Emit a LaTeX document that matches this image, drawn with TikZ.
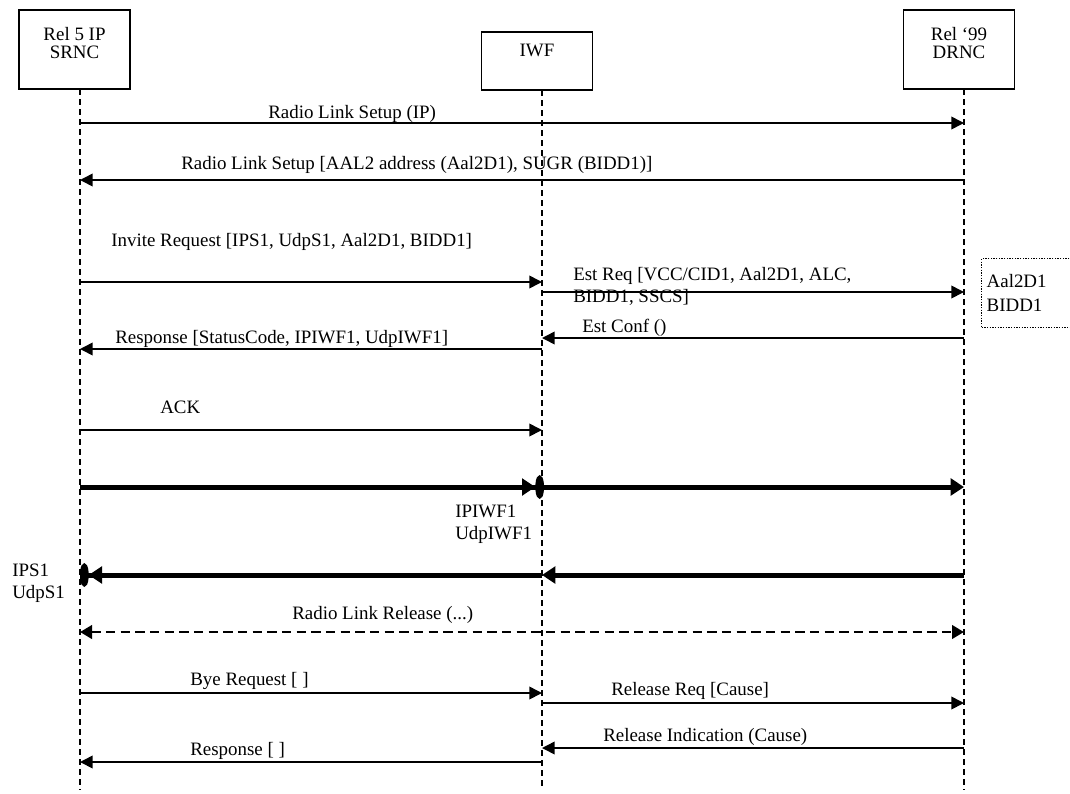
\documentclass[tikz,border=0pt]{standalone}
\usepackage{fontspec}
\setmainfont{Liberation Serif}
\usetikzlibrary{arrows.meta,positioning}
\newcommand{\msgfont}{\fontsize{14.2}{18}\selectfont}
\tikzset{
  ent/.style={draw,line width=1pt,minimum width=83.25pt,minimum height=59.25pt,
              inner sep=0pt},
  entname/.style={align=center,inner sep=0pt,anchor=north,
                  font=\fontsize{14.2}{13}\selectfont},
  life/.style={line width=1.5pt,dash pattern=on 4.5pt off 3pt},
  msg/.style={-{Triangle[length=9.5pt,width=9.5pt]},line width=1.2pt},
  fat/.style={-{Triangle[length=10pt,width=12.5pt]},line width=3.75pt},
  fatend/.style={line width=3.75pt,
                 -{Triangle[length=10pt,width=12.5pt]Ellipse[length=6.5pt,width=17pt]}},
  rel/.style={{Triangle[length=9pt,width=10pt]}-{Triangle[length=9pt,width=10pt]},
              line width=2.2pt,dash pattern=on 7pt off 4pt},
  lbl/.style={anchor=base west,inner sep=0pt,font=\msgfont},
  lbl2/.style={anchor=north west,inner sep=0pt,align=left,
               font=\fontsize{14.2}{16.5}\selectfont},
}

\begin{document}
\begin{tikzpicture}[x=0.75pt,y=-0.75pt,
    note/.style={draw,line width=1pt,dash pattern=on 1pt off 1pt,anchor=north west,
                 minimum width=90pt,minimum height=51.75pt,inner xsep=3.75pt,
                 text width=82.5pt,align=left,font=\fontsize{14.2}{18}\selectfont}
  ]
    \useasboundingbox (0,0) rectangle (1070,793);
    % entities
    \node[ent] (srnc) at (74.5,49.5) {};
    \node[ent,minimum height=43.5pt] (iwf) at (537,61) {};
    \node[ent] (drnc) at (959,49.5) {};
    \node[entname,below=13.5pt of srnc.north] (srncname) {Rel 5 IP\\SRNC};
    \node[entname,below=9pt of iwf.north] (iwfname) {IWF};
    \node[entname,below=13.5pt of drnc.north] (drncname) {Rel ‘99\\DRNC};
    % lifelines
    \coordinate (sTop) at (80,89);  \coordinate (sBot) at (80,790);
    \coordinate (iTop) at (542,90); \coordinate (iBot) at (542,790);
    \coordinate (dTop) at (964,89); \coordinate (dBot) at (964,790);
    \draw[life] (sTop) -- (sBot);
    \draw[life] (iTop) -- (iBot);
    \draw[life] (dTop) -- (dBot);

    % radio link setup
    \coordinate (m1a) at (80,123);  \coordinate (m1b) at (964,123);
    \draw[msg] (m1a) -- (m1b);
    \node[lbl] (t1) at (268,118) {Radio Link Setup (IP)};
    \coordinate (m2a) at (964,180); \coordinate (m2b) at (80,180);
    \draw[msg] (m2a) -- (m2b);
    \node[lbl] (t2) at (181,169) {Radio Link Setup [AAL2 address (Aal2D1), SUGR (BIDD1)]};

    % invite / establish
    \coordinate (m3a) at (80,282);  \coordinate (m3b) at (542,282);
    \draw[msg] (m3a) -- (m3b);
    \node[lbl] (t3) at (111,246) {Invite Request [IPS1, UdpS1, Aal2D1, BIDD1]};
    \coordinate (m4a) at (542,292); \coordinate (m4b) at (964,292);
    \draw[msg] (m4a) -- (m4b);
    \node[lbl2] (t4) at (573,267) {Est Req [VCC/CID1, Aal2D1, ALC,\\BIDD1, SSCS]};
    \node[note] (aal) at (981,258) {Aal2D1\\BIDD1};
    \coordinate (m5a) at (964,338); \coordinate (m5b) at (542,338);
    \draw[msg] (m5a) -- (m5b);
    \node[lbl] (t5) at (582,332) {Est Conf ()};
    \coordinate (m6a) at (542,349); \coordinate (m6b) at (80,349);
    \draw[msg] (m6a) -- (m6b);
    \node[lbl] (t6) at (115,343) {Response [StatusCode, IPIWF1, UdpIWF1]};
    \coordinate (m7a) at (80,430);  \coordinate (m7b) at (542,430);
    \draw[msg] (m7a) -- (m7b);
    \node[lbl] (t7) at (160,413) {ACK};

    % user plane
    \coordinate (f1a) at (80,487);  \coordinate (f1b) at (544,487);
    \coordinate (f2a) at (542,487); \coordinate (f2b) at (964,487);
    \draw[fatend] (f1a) -- (f1b);
    \draw[fat] (f2a) -- (f2b);
    \node[lbl2] (tiwf) at (455,505) {IPIWF1\\UdpIWF1};
    \coordinate (f3a) at (964,575); \coordinate (f3b) at (542,575);
    \coordinate (f4a) at (542,575); \coordinate (f4b) at (80,575);
    \draw[fat] (f3a) -- (f3b);
    \draw[fatend] (f4a) -- (f4b);
    \node[lbl2] (ts1) at (12,564) {IPS1\\UdpS1};

    % release
    \coordinate (r1a) at (80,632);  \coordinate (r1b) at (964,632);
    \draw[rel] (r1a) -- (r1b);
    \node[lbl] (t8) at (292,619) {Radio Link Release (...)};
    \coordinate (m8a) at (80,693);  \coordinate (m8b) at (542,693);
    \draw[msg] (m8a) -- (m8b);
    \node[lbl] (t9) at (190,685) {Bye Request [ ]};
    \coordinate (m9a) at (542,703); \coordinate (m9b) at (964,703);
    \draw[msg] (m9a) -- (m9b);
    \node[lbl] (t10) at (611,695) {Release Req [Cause]};
    \coordinate (m10a) at (964,748); \coordinate (m10b) at (542,748);
    \draw[msg] (m10a) -- (m10b);
    \node[lbl] (t11) at (603,741) {Release Indication (Cause)};
    \coordinate (m11a) at (542,762); \coordinate (m11b) at (80,762);
    \draw[msg] (m11a) -- (m11b);
    \node[lbl] (t12) at (190,755) {Response [ ]};
  \end{tikzpicture}
\end{document}
